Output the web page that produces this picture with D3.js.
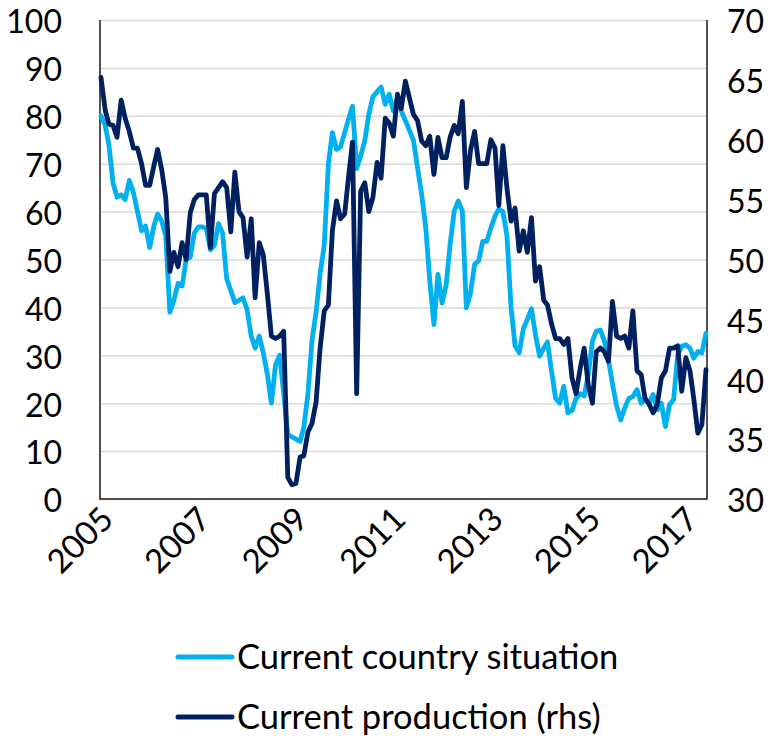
<!DOCTYPE html>
<html>
<head>
<meta charset="utf-8">
<script src="https://cdn.jsdelivr.net/npm/d3@7/dist/d3.min.js"></script>
<style>
  body { margin: 0; background: #fff; }
  text { font-family: Lato, "Open Sans", sans-serif; fill: #000; }
</style>
</head>
<body>
<div id="chart"></div>
<script>
// monthly survey readings, Jan 2005 - Jun 2017
var situation = [
  80, 78, 74, 66, 63, 63.5, 62.5, 66.5, 64, 60,
  56, 57, 52.5, 57, 59.5, 58, 55, 39, 41.5, 45,
  44.5, 50, 50.5, 55.5, 56.8, 56.8, 56.5, 52, 53, 57.5,
  55.5, 46, 43.5, 41, 41.5, 42, 39.5, 34, 31.5, 34,
  30.5, 26, 20, 28, 30, 22, 13.5, 13, 12.5, 12,
  15, 22, 33, 39, 47, 53, 70, 76.5, 73, 73.5,
  76.5, 79.5, 82, 69, 71.6, 74.8, 80.3, 84, 85, 86,
  82.4, 84.5, 81, 83.8, 81, 79, 77, 74.8, 69.2, 63.6,
  56.6, 45.5, 36.4, 46.9, 40.9, 44.8, 53.1, 60.1, 62.2, 60.1,
  39.9, 43, 49, 49.7, 53.8, 53.8, 56.6, 59.1, 60.5, 60,
  55, 40, 32, 30.5, 35.5, 37.5, 39.7, 34.3, 29.8, 31.5,
  32.8, 26.6, 21, 20, 23.5, 18, 18.5, 21, 22, 21.5,
  26, 33, 35, 35.3, 33, 29, 24, 19.5, 16.5, 19,
  21, 21.4, 22.8, 20, 21, 20, 21.8, 18.6, 20, 15.1,
  19.7, 20.7, 30.1, 31.9, 32.2, 31.5, 29.4, 30.8, 30.5, 34.6
];

var production = [
  65.2, 62.5, 61.3, 61.2, 60.2, 63.3, 61.8, 60.7, 59.3, 59.3,
  58, 56.2, 56.2, 57.8, 59.2, 57.5, 55.2, 49, 50.6, 49.4,
  51.4, 50, 53.9, 55, 55.4, 55.4, 55.4, 51, 55.5, 56,
  56.5, 56, 52.3, 57.3, 54, 53.5, 50.2, 53.4, 46.8, 51.4,
  50.4, 47.1, 43.6, 43.4, 43.6, 44, 31.8, 31.2, 31.3, 33.5,
  33.6, 35.6, 36.3, 38.1, 42.6, 45.7, 46.2, 52.4, 54.9, 53.4,
  53.8, 57.1, 59.8, 38.8, 55.7, 56.4, 54, 55.2, 58.1, 56.8,
  61.8, 61.4, 60.3, 63.8, 62.6, 64.9, 63.5, 62.1, 61.6, 59.9,
  59.5, 60.3, 57.1, 60.2, 58.5, 58.5, 60.2, 61.2, 60.5, 63.2,
  56, 59.1, 60.7, 58, 58, 58, 60, 59.3, 54.5, 59.5,
  56, 53.2, 54.3, 50.7, 52.4, 50.6, 53.5, 48.2, 49.4, 46.6,
  46.2, 44.6, 43.4, 43.4, 42.9, 43.4, 40.1, 38.8, 40.9, 42.6,
  39.5, 38, 42.3, 42.6, 42.3, 41.5, 46.5, 43.6, 43.4, 43.6,
  42.6, 45.7, 40.7, 40.4, 38.4, 37.9, 37.2, 37.9, 40.1, 40.7,
  42.6, 42.6, 42.8, 39, 41.8, 40.7, 38.4, 35.5, 36.2, 40.8
];

var months = d3.timeMonth.range(new Date(2005, 0, 1), new Date(2017, 6, 1));
var yearLabels = ["2005", "2007", "2009", "2011", "2013", "2015", "2017"];
var leftTicks = [0, 10, 20, 30, 40, 50, 60, 70, 80, 90, 100];
var rightTicks = [30, 35, 40, 45, 50, 55, 60, 65, 70];
var seriesNames = ["Current country situation", "Current production (rhs)"];
var colors = ["#00b0f0", "#002060"];

var W = 783, H = 736;
var plot = {left: 100, right: 707, top: 20, bottom: 499};

var svg = d3.select("#chart").append("svg")
    .attr("width", W)
    .attr("height", H);

var x = d3.scaleTime()
    .domain([months[0], months[months.length - 1]])
    .range([plot.left + 1, plot.right - 1]);

var yL = d3.scaleLinear().domain([0, 100]).range([plot.bottom, plot.top]);
var yR = d3.scaleLinear().domain([30, 70]).range([plot.bottom, plot.top]);

// gridlines
svg.append("g")
    .attr("transform", "translate(" + plot.left + ",0)")
    .call(d3.axisLeft(yL).tickValues(leftTicks).tickSize(-(plot.right - plot.left)).tickFormat(""))
    .call(function(g) { g.select(".domain").remove(); })
    .selectAll("line")
    .attr("stroke", "#d9d9d9")
    .attr("stroke-width", 1.5);

// left axis labels
svg.append("g")
    .attr("transform", "translate(" + plot.left + ",0)")
    .call(d3.axisLeft(yL).tickValues(leftTicks).tickSize(0).tickPadding(38))
    .call(function(g) { g.select(".domain").remove(); })
    .selectAll("text")
    .attr("dy", "0.4em")
    .style("font-size", "32px");

// right axis labels
svg.append("g")
    .attr("transform", "translate(" + plot.right + ",0)")
    .call(d3.axisRight(yR).tickValues(rightTicks).tickSize(0).tickPadding(20))
    .call(function(g) { g.select(".domain").remove(); })
    .selectAll("text")
    .attr("dy", "0.4em")
    .style("font-size", "32px");

// frame: left, bottom, right
svg.append("path")
    .attr("d", "M" + plot.left + "," + plot.top + "V" + plot.bottom + "H" + plot.right + "V" + plot.top)
    .attr("fill", "none")
    .attr("stroke", "#1a1a1a")
    .attr("stroke-width", 1.5);

// x labels, rotated
svg.append("g")
    .selectAll("text")
    .data(yearLabels)
    .enter().append("text")
    .attr("transform", function(d) {
        return "translate(" + (x(new Date(+d, 0, 1)) + 6) + "," + (plot.bottom + 14) + ") rotate(-45)";
    })
    .attr("text-anchor", "end")
    .attr("dy", "0.35em")
    .style("font-size", "33px")
    .text(function(d) { return d; });

var lineL = d3.line()
    .x(function(d, i) { return x(months[i]); })
    .y(function(d) { return yL(d); });

var lineR = d3.line()
    .x(function(d, i) { return x(months[i]); })
    .y(function(d) { return yR(d); });

svg.append("path")
    .datum(situation)
    .attr("fill", "none")
    .attr("stroke", colors[0])
    .attr("stroke-width", 4.8)
    .attr("stroke-linejoin", "round")
    .attr("stroke-linecap", "round")
    .attr("d", lineL);

svg.append("path")
    .datum(production)
    .attr("fill", "none")
    .attr("stroke", colors[1])
    .attr("stroke-width", 4.8)
    .attr("stroke-linejoin", "round")
    .attr("stroke-linecap", "round")
    .attr("d", lineR);

// legend
var legend = svg.append("g")
    .selectAll("g")
    .data(seriesNames)
    .enter().append("g")
    .attr("transform", function(d, i) { return "translate(178," + (657 + i * 60) + ")"; });

legend.append("line")
    .attr("x1", 0).attr("x2", 54)
    .attr("stroke", function(d, i) { return colors[i]; })
    .attr("stroke-width", 5)
    .attr("stroke-linecap", "round");

legend.append("text")
    .attr("x", 59)
    .attr("dy", "0.35em")
    .style("font-size", "34.5px")
    .text(function(d) { return d; });
</script>
</body>
</html>
